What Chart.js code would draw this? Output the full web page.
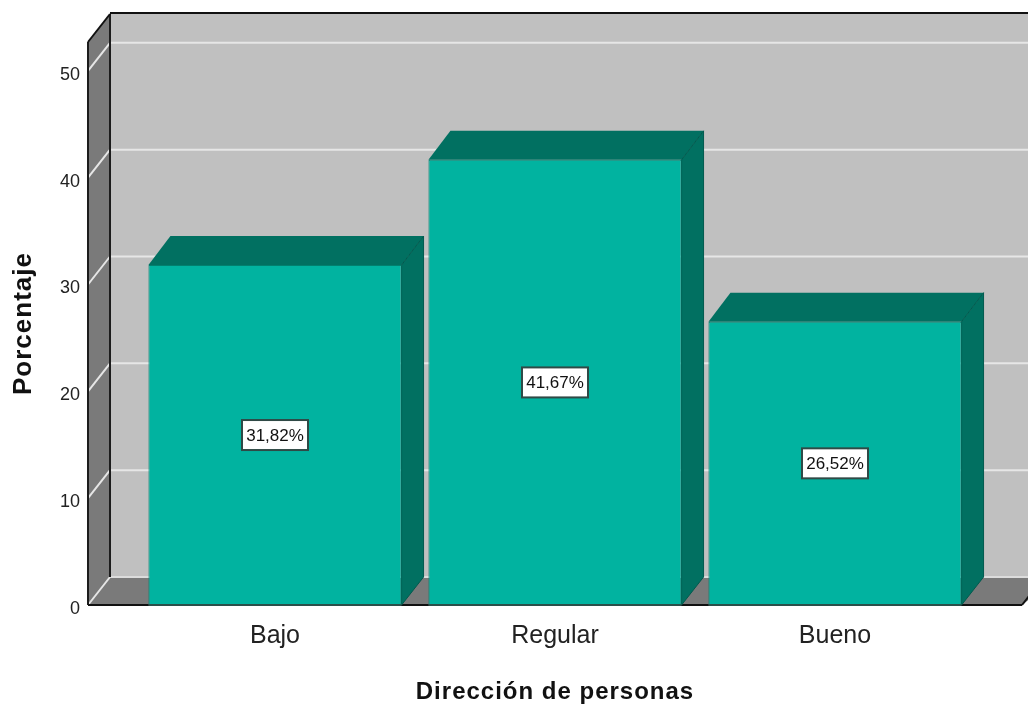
<!DOCTYPE html>
<html>
<head>
<meta charset="utf-8">
<style>
  body { margin: 0; background: #fff; }
  canvas { display: block; }
</style>
</head>
<body>
<canvas id="barChart" width="1028" height="705"></canvas>

<script src="https://cdn.jsdelivr.net/npm/chart.js"></script>
<script>
  const categories = ["Bajo", "Regular", "Bueno"];
  const percentages = [31.82, 41.67, 26.52];
  const percentLabels = ["31,82%", "41,67%", "26,52%"];

  // depth of the fake 3D box, and how far the side wall sits left of the category area
  const depthX = 22, depthY = 28, wallLeft = 47, floorRight = 953;

  function poly(ctx, points, fill, stroke, lineWidth) {
    ctx.beginPath();
    points.forEach((p, i) => i ? ctx.lineTo(p[0], p[1]) : ctx.moveTo(p[0], p[1]));
    ctx.closePath();
    ctx.fillStyle = fill;
    ctx.fill();
    if (stroke) {
      ctx.strokeStyle = stroke;
      ctx.lineWidth = lineWidth || 1;
      ctx.stroke();
    }
  }

  function line(ctx, x1, y1, x2, y2, color, width) {
    ctx.beginPath();
    ctx.moveTo(x1, y1);
    ctx.lineTo(x2, y2);
    ctx.strokeStyle = color;
    ctx.lineWidth = width;
    ctx.stroke();
  }

  const box3d = {
    id: "box3d",
    // axis titles are drawn in the layer before the datasets, tick labels (z: 1) after
    beforeDraw(chart) {
      chart.ctx.letterSpacing = "1px";
    },
    beforeDatasetsDraw(chart) {
      const { ctx, chartArea, scales } = chart;
      ctx.letterSpacing = "0px";
      const left = chartArea.left - wallLeft;
      const right = chart.width;
      const top = chartArea.top;
      const bottom = scales.y.getPixelForValue(0);
      ctx.save();

      // back wall, side wall, floor
      poly(ctx, [[left + depthX, top - depthY], [right, top - depthY], [right, bottom - depthY], [left + depthX, bottom - depthY]], "#c0c0c0");
      poly(ctx, [[left, top], [left + depthX, top - depthY], [left + depthX, bottom - depthY], [left, bottom]], "#7a7a7a");
      poly(ctx, [[left, bottom], [left + depthX, bottom - depthY], [right + 30, bottom - depthY], [floorRight + 69, bottom]], "#7a7a7a");

      // gridlines follow the y ticks across side wall and back wall
      scales.y.ticks.forEach(t => {
        const y = scales.y.getPixelForValue(t.value);
        line(ctx, left, y, left + depthX, y - depthY, "#e6e6e6", 2);
        if (t.value > 0) line(ctx, left + depthX, y - depthY, right, y - depthY, "#e6e6e6", 2);
      });
      line(ctx, left + depthX, bottom - depthY, right, bottom - depthY, "#dcdcdc", 2);

      // box outline
      line(ctx, left + depthX, top - depthY - 1, right, top - depthY - 1, "#111", 2);
      line(ctx, left + depthX, top - depthY, left + depthX, bottom - depthY, "#1c1c1c", 2);
      line(ctx, left, top, left, bottom, "#1c1c1c", 2);
      line(ctx, left, top, left + depthX, top - depthY, "#111", 2);
      line(ctx, left, bottom, floorRight + 69, bottom, "#111", 2);
      line(ctx, floorRight + 69, bottom, floorRight + 69 + depthX, bottom - depthY, "#111", 2);

      // top and side faces of the bars
      chart.getDatasetMeta(0).data.forEach(bar => {
        const x1 = bar.x - bar.width / 2, x2 = bar.x + bar.width / 2;
        const dark = "#017061";
        poly(ctx, [[x1, bar.y], [x1 + depthX, bar.y - depthY - 1], [x2 + depthX, bar.y - depthY - 1], [x2, bar.y]], dark);
        poly(ctx, [[x2, bar.y], [x2 + depthX, bar.y - depthY - 1], [x2 + depthX, bar.base - depthY], [x2, bar.base]], dark, "#015a4e", 1);
      });
      ctx.restore();
    },
    afterDatasetsDraw(chart) {
      const { ctx, scales } = chart;
      ctx.save();
      ctx.font = "17px 'Liberation Sans'";
      ctx.textAlign = "center";
      ctx.textBaseline = "middle";
      chart.getDatasetMeta(0).data.forEach((bar, i) => {
        line(ctx, bar.x - bar.width / 2, bar.base, bar.x + bar.width / 2, bar.base, "#2b4f49", 2);
        const y = scales.y.getPixelForValue(percentages[i] / 2);
        ctx.fillStyle = "#fff";
        ctx.strokeStyle = "#2f4a46";
        ctx.lineWidth = 2;
        ctx.fillRect(bar.x - 33, y - 15, 66, 30);
        ctx.strokeRect(bar.x - 33, y - 15, 66, 30);
        ctx.fillStyle = "#111";
        ctx.fillText(percentLabels[i], bar.x, y + 1);
      });
      ctx.restore();
    }
  };

  new Chart(document.getElementById("barChart"), {
    type: "bar",
    data: {
      labels: categories,
      datasets: [{
        label: "Porcentaje",
        data: percentages,
        backgroundColor: "#01b3a0",
        borderColor: "#01806f",
        borderWidth: 1,
        barPercentage: 0.904,
        categoryPercentage: 1
      }]
    },
    plugins: [box3d],
    options: {
      responsive: false,
      animation: false,
      layout: { autoPadding: false, padding: { top: 42, right: 53 } },
      plugins: { legend: { display: false }, tooltip: { enabled: false } },
      scales: {
        x: {
          afterFit: s => { s.height = 100; },
          grid: { display: false, drawTicks: false },
          border: { display: false },
          ticks: { z: 1, padding: 16, color: "#222", font: { family: "Liberation Sans", size: 25 } },
          title: {
            display: true,
            text: "Dirección de personas",
            color: "#111",
            padding: { top: 22, bottom: -2 },
            font: { family: "Liberation Sans", size: 24, weight: "bold" }
          }
        },
        y: {
          min: 0,
          max: 52.7,
          // the big tick padding would otherwise push the plot top down
          afterFit: s => { s.width = 135; s.paddingTop = 0; s.paddingBottom = 0; },
          grid: { display: false, drawTicks: false },
          border: { display: false },
          ticks: { z: 1, stepSize: 10, includeBounds: false, padding: 55, labelOffset: 4, color: "#222", font: { family: "Liberation Sans", size: 18 } },
          title: {
            display: true,
            text: "Porcentaje",
            color: "#111",
            padding: { top: 8, bottom: 0 },
            font: { family: "Liberation Sans", size: 26, weight: "bold" }
          }
        }
      }
    }
  });
</script>
</body>
</html>
